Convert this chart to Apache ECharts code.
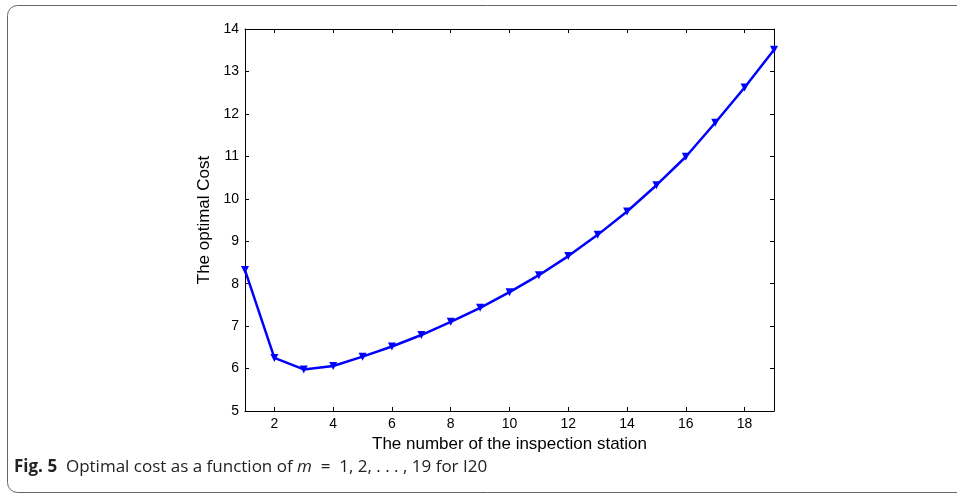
<!DOCTYPE html>
<html>
<head>
<meta charset="utf-8">
<script src="https://cdn.jsdelivr.net/npm/echarts@6/dist/echarts.min.js"></script>
<style>
  html, body { margin: 0; padding: 0; background: #fff; }
  #chart { width: 957px; height: 495px; }
</style>
</head>
<body>
<div id="chart"></div>
<script>
// number of inspection stations m and the optimal cost
const stations = [1, 2, 3, 4, 5, 6, 7, 8, 9, 10, 11, 12, 13, 14, 15, 16, 17, 18, 19];
const optimalCost = [8.32, 6.25, 5.98, 6.06, 6.28, 6.52, 6.79, 7.10, 7.43, 7.80, 8.20, 8.65, 9.15, 9.70, 10.32, 10.99, 11.79, 12.62, 13.51];
const xTicks = [2, 4, 6, 8, 10, 12, 14, 16, 18];

const chart = echarts.init(document.getElementById('chart'));
const axisFont = 'Liberation Sans, Arial, sans-serif';
const black = '#000';

const boxAxis = {
  axisLine: { show: true, lineStyle: { color: black, width: 1 } },
  splitLine: { show: false },
};

chart.setOption({
  animation: false,
  backgroundColor: '#fff',
  grid: { left: 245, right: 183, top: 29, bottom: 84 },
  xAxis: [
    {
      ...boxAxis,
      type: 'value', min: 1, max: 19,
      name: 'The number of the inspection station',
      nameLocation: 'middle', nameGap: 22,
      nameTextStyle: { fontFamily: axisFont, fontSize: 17, color: black },
      axisTick: { show: true, inside: true, length: 4, customValues: xTicks, lineStyle: { color: black } },
      axisLabel: { customValues: xTicks, fontFamily: axisFont, fontSize: 14, color: black, margin: 6 },
    },
    {
      ...boxAxis,
      type: 'value', min: 1, max: 19, position: 'top',
      axisTick: { show: true, inside: true, length: 4, customValues: xTicks, lineStyle: { color: black } },
      axisLabel: { show: false },
    },
  ],
  yAxis: [
    {
      ...boxAxis,
      type: 'value', min: 5, max: 14, interval: 1,
      name: 'The optimal Cost',
      nameLocation: 'middle', nameGap: 29, nameRotate: 90,
      nameTextStyle: { fontFamily: axisFont, fontSize: 17, color: black },
      axisTick: { show: true, inside: true, length: 4, lineStyle: { color: black } },
      axisLabel: { fontFamily: axisFont, fontSize: 14, color: black, margin: 6 },
    },
    {
      ...boxAxis,
      type: 'value', min: 5, max: 14, interval: 1, position: 'right',
      axisTick: { show: true, inside: true, length: 4, lineStyle: { color: black } },
      axisLabel: { show: false },
    },
  ],
  series: [{
    type: 'line',
    data: stations.map((m, i) => [m, optimalCost[i]]),
    lineStyle: { color: '#0000ff', width: 2.5 },
    itemStyle: { color: '#0000ff' },
    symbol: 'triangle', symbolRotate: 180, symbolSize: 8,
    showSymbol: true,
  }],
  graphic: [
    {
      type: 'rect', silent: true,
      shape: { x: 7.5, y: 5.5, width: 1000, height: 487, r: 10 },
      style: { fill: 'none', stroke: '#666', lineWidth: 1 },
    },
    {
      type: 'text', left: 14, top: 459,
      style: {
        text: '{b|Fig. 5}  Optimal cost as a function of {i|m}  =  1, 2, . . . , 19 for I20',
        font: '17px "Open Sans", sans-serif',
        fill: '#222',
        rich: {
          b: { fontWeight: 'bold', fontFamily: 'Open Sans', fontSize: 17, fill: '#222' },
          i: { fontStyle: 'italic', fontFamily: 'Open Sans', fontSize: 17, fill: '#222' },
        },
      },
    },
  ],
});
</script>
</body>
</html>
